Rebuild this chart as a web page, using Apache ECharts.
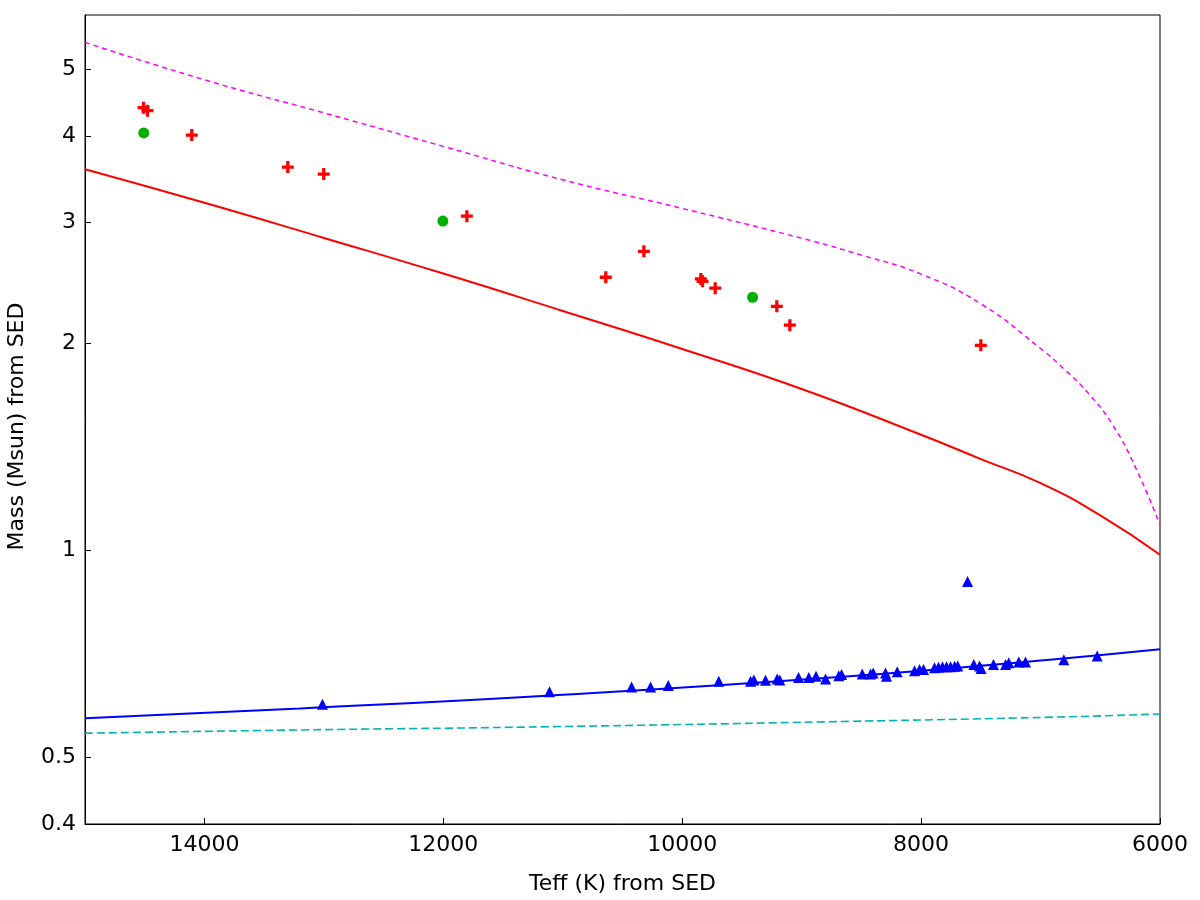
<!DOCTYPE html>
<html lang="en">

<head>
    <meta charset="UTF-8">
    <title>Mass vs Teff from SED</title>
    <script src="https://cdn.jsdelivr.net/npm/echarts@6.0.0/dist/echarts.min.js"></script>
</head>

<body style="margin: 0;">
    <div id="main" style="width: 1200px; height: 900px;"></div>
    <script type="text/javascript">
        // Tick labels
        const xTicks = [6000, 8000, 10000, 12000, 14000];
        const yTicks = [0.4, 0.5, 1, 2, 3, 4, 5];

        // Red solid curve
        const redCurveT = [15000, 14000, 13000, 12000, 11000, 10000, 9000, 8000, 7500, 7000, 6500, 6000];
        const redCurveM = [3.58, 3.20, 2.845, 2.525, 2.228, 1.962, 1.716, 1.472, 1.357, 1.252, 1.124, 0.985];

        // Magenta dashed curve
        const magCurveT = [15000, 14000, 13000, 12000, 11000, 10000, 9000, 8500, 8000, 7500, 7000, 6800, 6600, 6400, 6200, 6000];
        const magCurveM = [5.475, 4.83, 4.324, 3.865, 3.456, 3.14, 2.842, 2.686, 2.52, 2.282, 1.965, 1.832, 1.691, 1.525, 1.314, 1.088];

        // Blue solid curve
        const blueCurveT = [15000, 13200, 11100, 8600, 6900, 6000];
        const blueCurveM = [0.570, 0.589, 0.615, 0.656, 0.694, 0.718];

        // Cyan dashed curve
        const cyanCurveT = [15000, 13200, 11100, 8600, 6900, 6000];
        const cyanCurveM = [0.542, 0.548, 0.554, 0.564, 0.572, 0.578];

        // Red crosses
        const crossT = [14510, 14477, 14106, 13302, 13001, 11803, 10640, 10321, 9844, 9830, 9724, 9208, 9099, 7500];
        const crossM = [4.40, 4.355, 4.014, 3.606, 3.523, 3.06, 2.494, 2.72, 2.48, 2.46, 2.404, 2.263, 2.124, 1.986];

        // Green circles
        const circleT = [14508, 12004, 9411];
        const circleM = [4.043, 3.01, 2.332];

        // Blue triangles
        const triT = [13012, 11111, 10424, 10265, 10117, 9694, 9428, 9400, 9303, 9205, 9183, 9026, 8940, 8880, 8800,
            8689, 8666, 8493, 8423, 8401, 8298, 8290, 8200, 8055, 8013, 7980, 7888, 7854, 7821, 7787, 7754, 7720, 7693,
            7611, 7559, 7511, 7498, 7394, 7293, 7266, 7182, 7126, 6805, 6526];
        const triM = [0.597, 0.623, 0.633, 0.633, 0.636, 0.645, 0.645, 0.648, 0.647, 0.650, 0.648, 0.653, 0.653, 0.656, 0.650,
            0.657, 0.660, 0.661, 0.661, 0.663, 0.663, 0.656, 0.666, 0.668, 0.671, 0.671, 0.675, 0.676, 0.677, 0.677, 0.677, 0.678, 0.679,
            0.901, 0.682, 0.679, 0.673, 0.682, 0.682, 0.686, 0.688, 0.688, 0.693, 0.702];

        const zip = (a, b) => a.map((v, i) => [v, b[i]]);
        const font = 'DejaVu Sans';
        const plus = 'path://M4,0H7V4H11V7H7V11H4V7H0V4H4Z';

        let myChart = echarts.init(document.getElementById('main'));

        const options = {
            animation: false,
            grid: {
                left: 85, right: 40, top: 15, bottom: 76,
                show: true, borderColor: '#000', borderWidth: 1,
                outerBoundsMode: 'none'
            },
            xAxis: {
                type: 'value',
                min: 6000,
                max: 15000,
                interval: 2000,
                inverse: true,
                name: 'Teff (K) from SED',
                nameLocation: 'middle',
                nameGap: 49,
                nameTextStyle: { fontFamily: font, fontSize: 22, color: '#000' },
                axisLine: { show: true, lineStyle: { color: '#000', width: 1 } },
                axisTick: { show: true, inside: true, length: 6, lineStyle: { color: '#000', width: 1 } },
                axisLabel: {
                    customValues: xTicks, margin: 10, fontFamily: font, fontSize: 22, color: '#000',
                    formatter: (v) => String(v)
                },
                splitLine: { show: false }
            },
            yAxis: {
                type: 'log',
                logBase: 10,
                min: 0.4,
                max: 6,
                name: 'Mass (Msun) from SED',
                nameLocation: 'middle',
                nameGap: 57,
                nameTextStyle: { fontFamily: font, fontSize: 22, color: '#000', padding: [0, 14, 0, 0] },
                axisLine: { show: true, lineStyle: { color: '#000', width: 1 } },
                axisTick: { show: true, inside: true, length: 6, customValues: yTicks, lineStyle: { color: '#000', width: 1 } },
                axisLabel: {
                    customValues: yTicks, margin: 9, fontFamily: font, fontSize: 22, color: '#000',
                    formatter: (v) => String(+v.toFixed(1))
                },
                splitLine: { show: false },
                minorTick: { show: false }
            },
            series: [
                {
                    type: 'line', data: zip(cyanCurveT, cyanCurveM), showSymbol: false, smooth: true,
                    lineStyle: { color: '#00b3b3', width: 1.6, type: [8, 4] }
                },
                {
                    type: 'line', data: zip(magCurveT, magCurveM), showSymbol: false, smooth: true,
                    lineStyle: { color: '#ff00ff', width: 1.5, type: [5, 4] }
                },
                {
                    type: 'line', data: zip(redCurveT, redCurveM), showSymbol: false, smooth: true,
                    lineStyle: { color: '#ff0000', width: 2 }
                },
                {
                    type: 'line', data: zip(blueCurveT, blueCurveM), showSymbol: false, smooth: true,
                    lineStyle: { color: '#0000ff', width: 2 }
                },
                {
                    type: 'scatter', data: zip(triT, triM), symbol: 'triangle', symbolSize: 11,
                    itemStyle: { color: '#0000ff', opacity: 1 }
                },
                {
                    type: 'scatter', data: zip(crossT, crossM), symbol: plus, symbolSize: 12,
                    itemStyle: { color: '#ff0000', opacity: 1 }
                },
                {
                    type: 'scatter', data: zip(circleT, circleM), symbol: 'circle', symbolSize: 11,
                    itemStyle: { color: '#00b000', opacity: 1 }
                }
            ]
        };

        myChart.setOption(options);
    </script>
</body>

</html>
